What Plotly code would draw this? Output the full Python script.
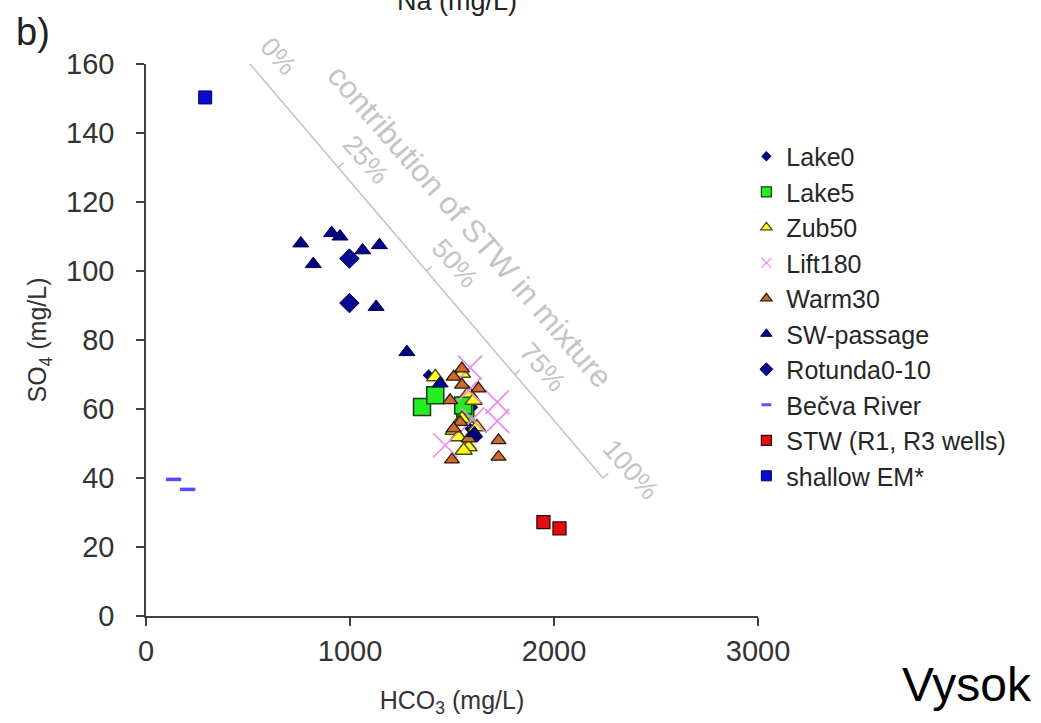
import plotly.graph_objects as go

# ---------------- data (HCO3 mg/L, SO4 mg/L) ----------------
lake0_x = [1385, 1589, 1622, 1600]
lake0_y = [69.8, 54.3, 51.9, 60.5]

lake5_x = [1353, 1418, 1565, 1555]
lake5_y = [60.6, 64.0, 58.7, 61.0]

zub50_x = [1418, 1549, 1581, 1606, 1508, 1532, 1581, 1557, 1622, 1549]
zub50_y = [69.3, 70.3, 64.5, 62.5, 53.8, 51.9, 49.0, 48.0, 54.8, 57.2]

lift180_x = [1589, 1581, 1722, 1722, 1467, 1600]
lift180_y = [72.0, 65.4, 62.0, 56.5, 49.5, 57.0]

warm30_x = [1508, 1491, 1630, 1540, 1581, 1728, 1728, 1500, 1549, 1508, 1549]
warm30_y = [69.3, 62.5, 65.9, 56.2, 51.4, 50.9, 46.1, 45.3, 71.7, 54.3, 67.0]

swp_x = [759, 820, 910, 951, 1062, 1144, 1128, 1279, 1442, 1610]
swp_y = [108.0, 102.0, 111.0, 110.0, 106.0, 107.5, 89.6, 76.5, 67.4, 53.0]

rot_x = [997, 997]
rot_y = [103.6, 90.7]

becva_x = [135, 204]
becva_y = [39.6, 36.7]

stw_x = [1948, 2027]
stw_y = [27.2, 25.4]

shallow_x = [290]
shallow_y = [150.3]

# mixing line (0 % -> 100 % STW)
mix_start = (510, 160)
mix_end = (2240, 40)
mix_pct = [0, 25, 50, 75, 100]
mix_labels = ["0%", "25%", "50%", "75%", "100%"]

x_ticks = [0, 1000, 2000, 3000]
y_ticks = [0, 20, 40, 60, 80, 100, 120, 140, 160]

FONT = "Arial, Liberation Sans, sans-serif"
GRAY = "#c4c4c4"
NAVY = "#000080"

series = [
    # name, x, y, symbol, size, color, line color, line width, legend size
    ("Lake0", lake0_x, lake0_y, "diamond", 9, NAVY, NAVY, 0, 8),
    ("Lake5", lake5_x, lake5_y, "square", 17, "#22ee22", "#1a3a1a", 1.5, 10),
    ("Zub50", zub50_x, zub50_y, "triangle-up", 15, "#ffff22", "#4a4a00", 1.5, 10),
    ("Lift180", lift180_x, lift180_y, "x-thin", 24, "#ee88ee", "#ee88ee", 1.6, 10),
    ("Warm30", warm30_x, warm30_y, "triangle-up", 13, "#cc6a30", "#2a1a0a", 1.3, 10),
    ("SW-passage", swp_x, swp_y, "triangle-up", 14, NAVY, "#000050", 1, 10),
    ("Rotunda0-10", rot_x, rot_y, "diamond", 15, "#0a0a90", "#000050", 1, 10),
    ("Bečva River", becva_x, becva_y, "line-ew", 11, "#5050ff", "#5050ff", 3.5, 7),
    ("STW (R1, R3 wells)", stw_x, stw_y, "square", 13, "#e01010", "#400000", 1.3, 10),
    ("shallow EM*", shallow_x, shallow_y, "square", 13, "#0a0ad0", "#000060", 1, 10),
]

fig = go.Figure()
for name, xs, ys, sym, size, col, lcol, lw, lsize in series:
    fig.add_trace(go.Scatter(
        x=xs, y=ys, mode="markers", name=name, showlegend=False,
        marker=dict(symbol=sym, size=size, color=col,
                    line=dict(color=lcol, width=lw)),
        hoverinfo="x+y+name",
    ))
# legend-only entries with small symbols, as in the original
for name, xs, ys, sym, size, col, lcol, lw, lsize in series:
    fig.add_trace(go.Scatter(
        x=[None], y=[None], mode="markers", name=name,
        marker=dict(symbol=sym, size=lsize, color=col,
                    line=dict(color=lcol, width=min(lw, 1.2) if sym != "line-ew" else 3)),
    ))

# ---------- mixing line with ticks and labels ----------
x0, y0 = mix_start
x1, y1 = mix_end
fig.add_shape(type="line", x0=x0, y0=y0, x1=x1, y1=y1,
              line=dict(color=GRAY, width=1.6), layer="below")
px_per_x = 612.5 / 3000.0
px_per_y = 552.0 / 160.0
for p, lab in zip(mix_pct, mix_labels):
    f = p / 100.0
    tx = x0 + (x1 - x0) * f
    ty = y0 + (y1 - y0) * f
    # short perpendicular tick toward the upper right (7 px)
    fig.add_shape(type="line", x0=tx, y0=ty,
                  x1=tx + 0.757 * 7 / px_per_x, y1=ty + 0.654 * 7 / px_per_y,
                  line=dict(color=GRAY, width=1.6), layer="below")
    fig.add_annotation(x=tx, y=ty, xref="x", yref="y", text=lab,
                       showarrow=False, textangle=49, xshift=28, yshift=8,
                       xanchor="center", yanchor="middle",
                       font=dict(family=FONT, size=27, color=GRAY))

fig.add_annotation(x=0.529, y=0.705, xref="paper", yref="paper",
                   text="contribution of STW in mixture", showarrow=False,
                   textangle=49, xanchor="center", yanchor="middle",
                   font=dict(family=FONT, size=31, color=GRAY))

# ---------- text from surrounding figure ----------
fig.add_annotation(x=0.508, y=1.1135, xref="paper", yref="paper", text="Na (mg/L)",
                   xanchor="center", yanchor="middle", showarrow=False,
                   font=dict(family=FONT, size=27, color="#222222"))
fig.add_annotation(x=-0.215, y=1.058, xref="paper", yref="paper", text="b)",
                   xanchor="left", yanchor="middle", showarrow=False,
                   font=dict(family=FONT, size=38, color="#222222"))
fig.add_annotation(x=1.232, y=-0.1232, xref="paper", yref="paper", text="Vysok",
                   xanchor="left", yanchor="middle", showarrow=False,
                   font=dict(family=FONT, size=48, color="#000000"))

axis_common = dict(
    showgrid=False, zeroline=False, showline=True, linecolor="#404040", linewidth=1.5,
    ticks="outside", ticklen=8, tickwidth=1.5, tickcolor="#404040",
    tickfont=dict(family=FONT, size=29, color="#333333"),
)
fig.update_layout(
    width=1041, height=723,
    margin=dict(l=146, r=283, t=64, b=107, autoexpand=False),
    paper_bgcolor="white", plot_bgcolor="white",
    xaxis=dict(range=[0, 3000], tickvals=x_ticks, ticklabelstandoff=0,
               title=dict(text="HCO<sub>3</sub> (mg/L)", standoff=26,
                          font=dict(family=FONT, size=25, color="#333333")),
               **axis_common),
    yaxis=dict(range=[0, 160], tickvals=y_ticks, ticklabelstandoff=16,
               title=dict(text="SO<sub>4</sub> (mg/L)", standoff=12,
                          font=dict(family=FONT, size=25, color="#333333")),
               **axis_common),
    legend=dict(x=0.981, xanchor="left", y=0.874, yanchor="top",
                font=dict(family=FONT, size=25, color="#262626"),
                bgcolor="rgba(0,0,0,0)", tracegroupgap=0, itemwidth=30),
    showlegend=True,
)

fig.write_html("out.html")
